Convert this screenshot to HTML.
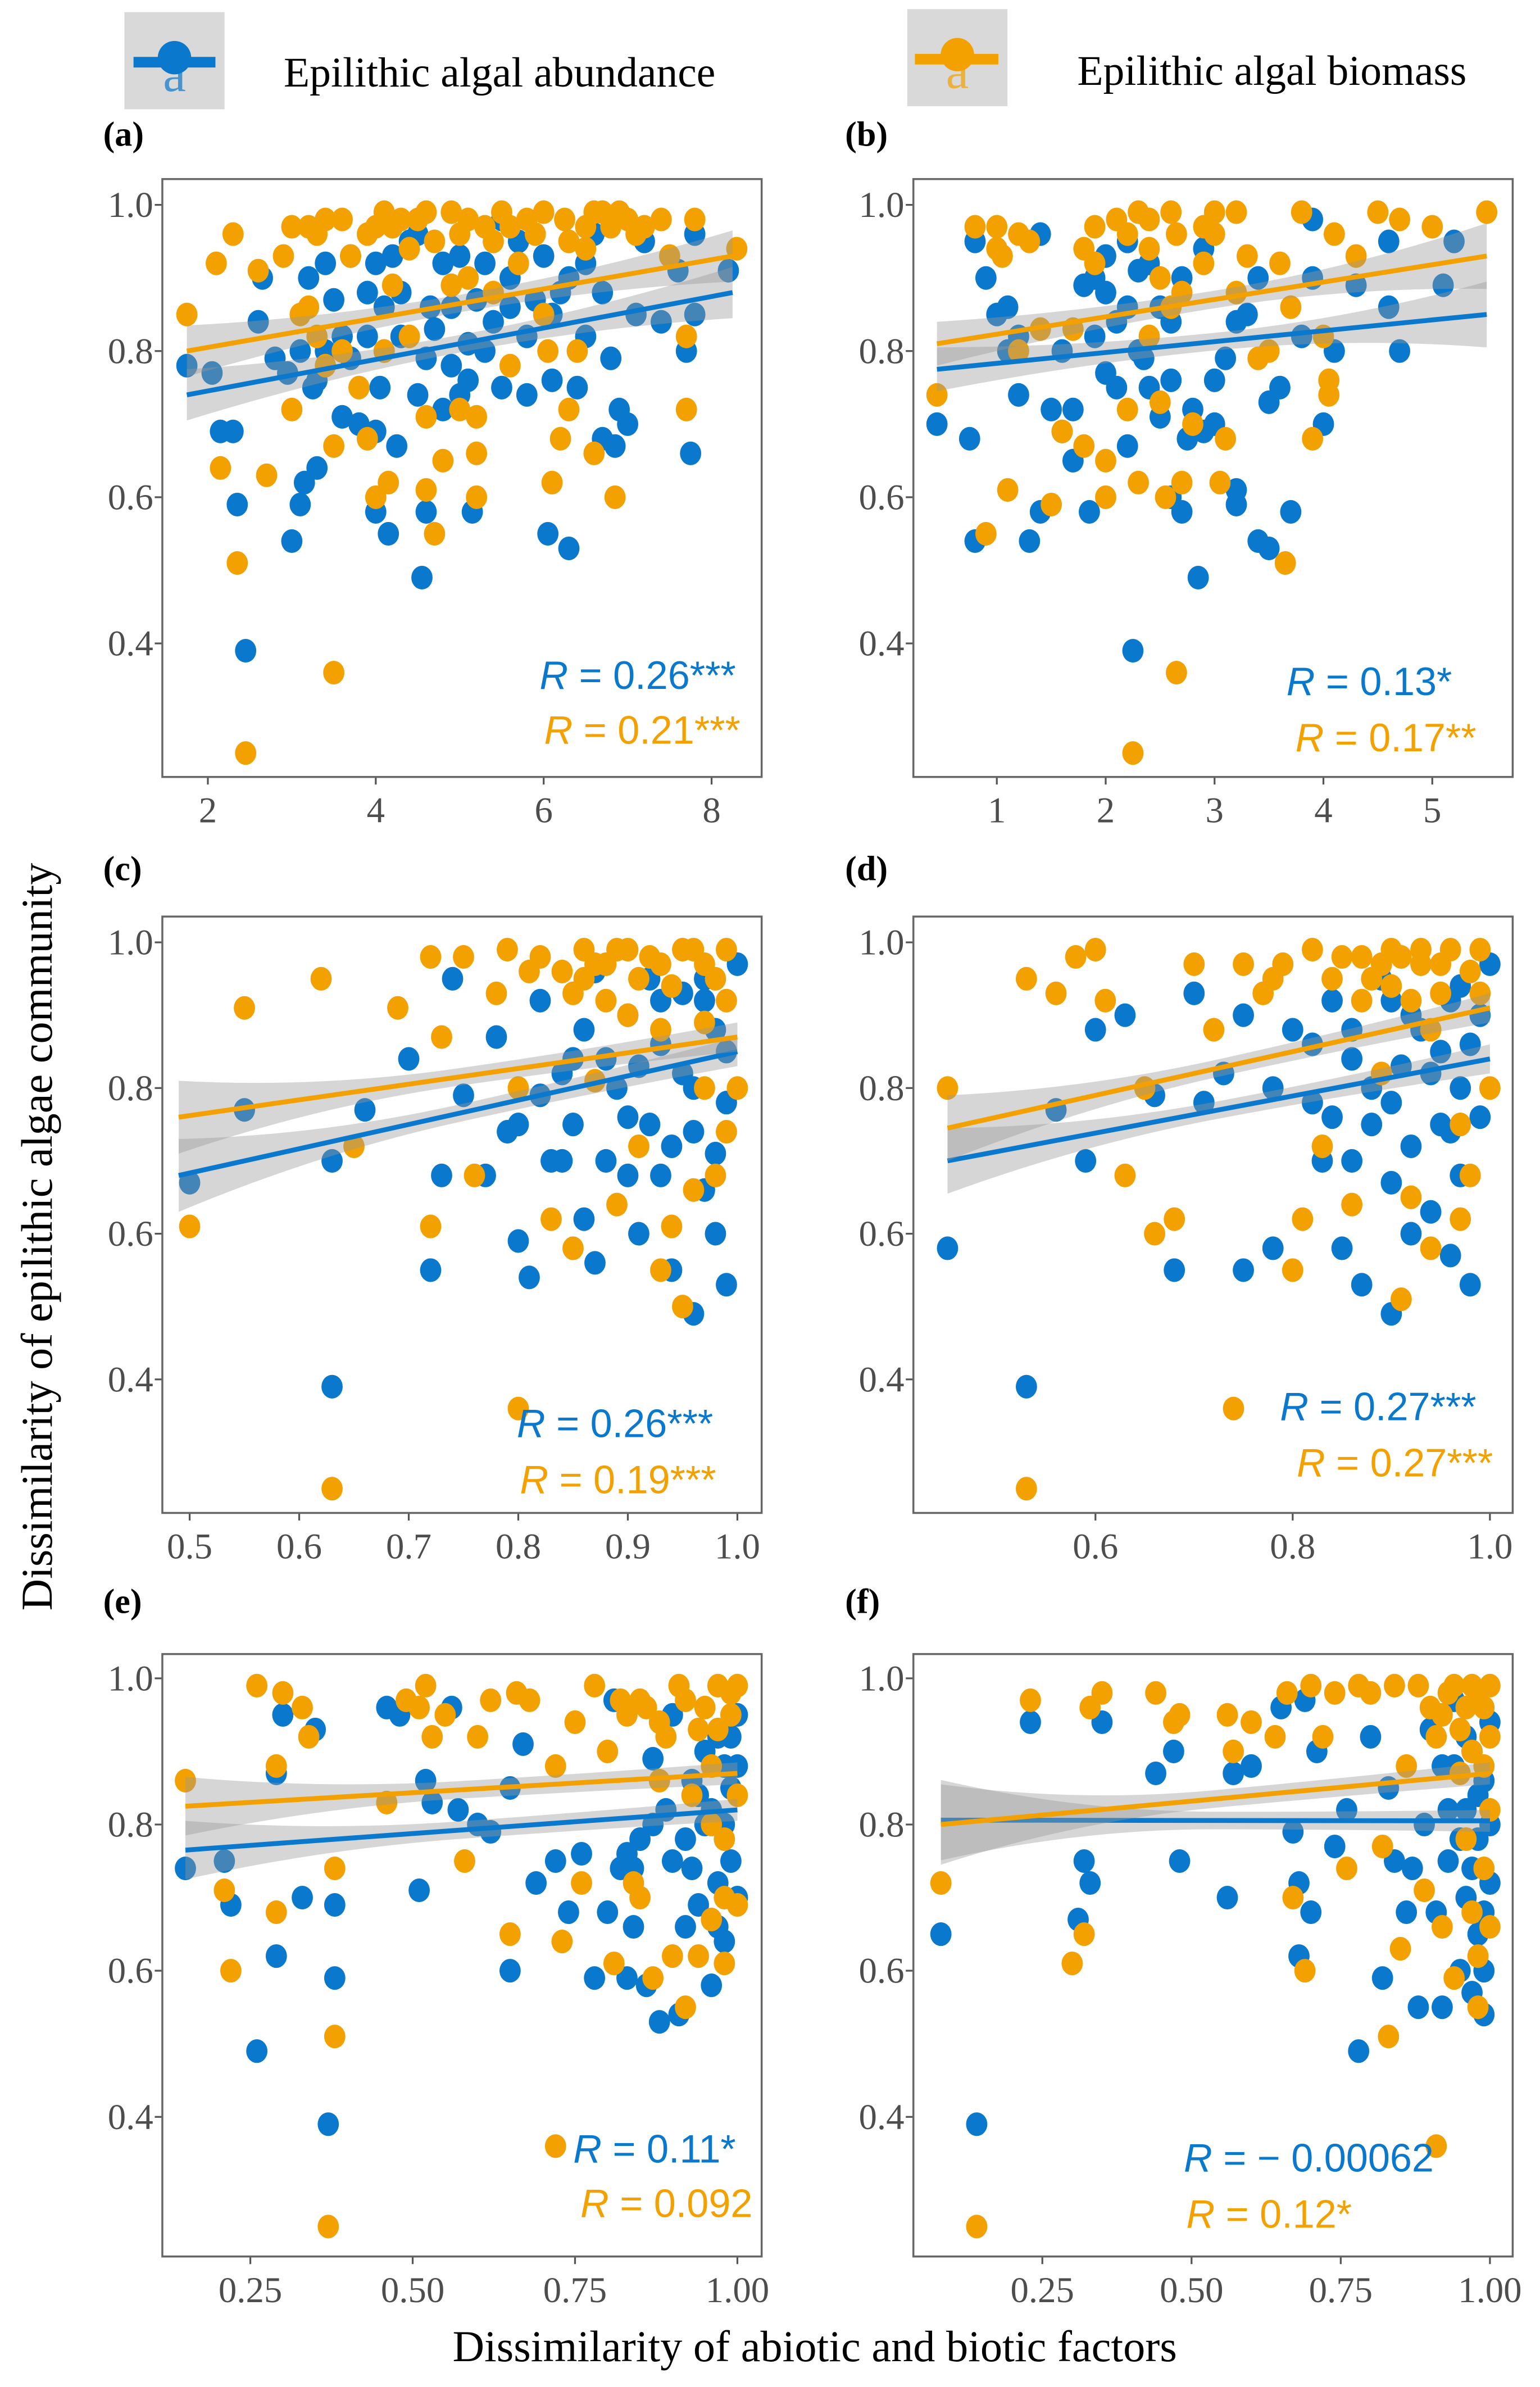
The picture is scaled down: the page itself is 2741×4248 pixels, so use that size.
<!DOCTYPE html>
<html><head><meta charset="utf-8"><style>
html,body{margin:0;padding:0;background:#fff}
svg{display:block}
.tick{font-family:"Liberation Serif",serif;font-size:24px;fill:#4d4d4d}
.plab{font-family:"Liberation Serif",serif;font-size:23px;font-weight:bold;fill:#000}
.rt{font-family:"Liberation Sans",sans-serif;font-size:26px}
.ttl{font-family:"Liberation Serif",serif;font-size:28px;fill:#000}
</style></head><body>
<svg id="fig" width="2741" height="4248" viewBox="0 0 1015 1573" preserveAspectRatio="none" xmlns="http://www.w3.org/2000/svg">
<g>
 <g>
  <rect x="82" y="8" width="66" height="64" fill="#d9d9d9"/>
  <line x1="88" y1="41" x2="142" y2="41" stroke="#0a78cc" stroke-width="7"/>
  <circle cx="115" cy="38" r="11" fill="#0a78cc"/>
  <text x="115" y="60" text-anchor="middle" style="font-family:'Liberation Serif',serif;font-size:34px;fill:#0a78cc;opacity:.7">a</text>
  <text x="187" y="57" class="ttl">Epilithic algal abundance</text>
 </g>
 <g>
  <rect x="598" y="6" width="66" height="64" fill="#d9d9d9"/>
  <line x1="603" y1="39" x2="658" y2="39" stroke="#f2a100" stroke-width="7"/>
  <circle cx="631" cy="36" r="11" fill="#f2a100"/>
  <text x="631" y="58" text-anchor="middle" style="font-family:'Liberation Serif',serif;font-size:34px;fill:#f2a100;opacity:.7">a</text>
  <text x="710" y="56" class="ttl">Epilithic algal biomass</text>
 </g>
</g>
<text class="ttl" transform="translate(34,815) rotate(-90)" text-anchor="middle" style="font-size:29px">Dissimilarity of epilithic algae community</text>
<text class="ttl" x="537" y="1556" text-anchor="middle" style="font-size:29px">Dissimilarity of  abiotic and biotic factors</text>
<g id="panels"></g>
</svg>
<script>
// ---- data ----
const yTicks = [0.4, 0.6, 0.8, 1.0];
const yTickLabels = ["0.4", "0.6", "0.8", "1.0"];
const panelNames = ["a","b","c","d","e","f"];
const xTicksA = [2,4,6,8]; const xTickLabelsA = ["2","4","6","8"];
const xTicksB = [1,2,3,4,5]; const xTickLabelsB = ["1","2","3","4","5"];
const xTicksC = [0.5,0.6,0.7,0.8,0.9,1.0]; const xTickLabelsC = ["0.5","0.6","0.7","0.8","0.9","1.0"];
const xTicksD = [0.6,0.8,1.0]; const xTickLabelsD = ["0.6","0.8","1.0"];
const xTicksE = [0.25,0.5,0.75,1.0]; const xTickLabelsE = ["0.25","0.50","0.75","1.00"];
const xTicksF = [0.25,0.5,0.75,1.0]; const xTickLabelsF = ["0.25","0.50","0.75","1.00"];

const blueA = [[1.75,0.78],[2.05,0.77],[2.15,0.69],[2.3,0.69],[2.35,0.59],[2.45,0.39],[2.6,0.84],[2.65,0.90],[2.8,0.79],[2.95,0.77],[3.0,0.54],[3.1,0.59],[3.15,0.62],[3.2,0.90],[3.25,0.75],[3.3,0.64],[3.4,0.92],[3.5,0.87],[3.6,0.71],[3.7,0.79],[3.8,0.70],[3.9,0.88],[4.0,0.58],[4.0,0.69],[4.05,0.75],[4.1,0.86],[4.15,0.55],[4.2,0.93],[4.25,0.67],[4.3,0.82],[4.4,0.95],[4.5,0.74],[4.55,0.49],[4.6,0.58],[4.65,0.86],[4.7,0.83],[4.8,0.92],[4.9,0.78],[5.0,0.74],[5.1,0.81],[5.15,0.58],[5.2,0.87],[5.3,0.92],[5.4,0.84],[5.5,0.75],[5.6,0.90],[5.7,0.95],[5.8,0.74],[5.9,0.87],[6.0,0.93],[6.05,0.55],[6.1,0.76],[6.2,0.88],[6.3,0.53],[6.4,0.75],[6.5,0.82],[6.6,0.96],[6.7,0.68],[6.8,0.79],[6.85,0.67],[6.9,0.72],[7.0,0.70],[7.2,0.95],[7.4,0.84],[7.6,0.91],[7.7,0.80],[7.75,0.66],[7.8,0.96],[8.2,0.91],[7.8,0.85],[5.5,0.98],[4.5,0.96],[3.7,0.93],[6.5,0.92],[3.1,0.80],[3.3,0.76],[3.6,0.82],[3.9,0.82],[4.1,0.80],[4.3,0.88],[4.6,0.79],[4.8,0.72],[4.9,0.86],[5.1,0.76],[5.3,0.80],[5.6,0.86],[5.8,0.82],[6.1,0.85],[6.3,0.90],[6.7,0.88],[7.1,0.85],[5.0,0.93],[4.0,0.92],[3.4,0.80]];
const orangeA = [[1.75,0.85],[2.1,0.92],[2.15,0.64],[2.3,0.96],[2.35,0.51],[2.45,0.25],[2.6,0.91],[2.7,0.63],[2.9,0.93],[3.0,0.97],[3.0,0.72],[3.1,0.85],[3.2,0.97],[3.3,0.82],[3.4,0.98],[3.5,0.67],[3.5,0.36],[3.6,0.80],[3.7,0.93],[3.8,0.75],[3.9,0.68],[4.0,0.97],[4.0,0.60],[4.1,0.99],[4.15,0.62],[4.2,0.89],[4.3,0.98],[4.4,0.82],[4.5,0.98],[4.6,0.61],[4.6,0.71],[4.7,0.55],[4.7,0.95],[4.8,0.65],[4.9,0.99],[5.0,0.72],[5.0,0.96],[5.1,0.90],[5.2,0.66],[5.2,0.60],[5.2,0.71],[5.3,0.97],[5.4,0.88],[5.5,0.99],[5.6,0.78],[5.7,0.92],[5.8,0.98],[5.9,0.96],[6.0,0.85],[6.05,0.80],[6.1,0.62],[6.2,0.68],[6.25,0.98],[6.3,0.72],[6.4,0.80],[6.5,0.94],[6.6,0.66],[6.7,0.99],[6.8,0.97],[6.85,0.60],[6.9,0.99],[7.0,0.98],[7.2,0.97],[7.4,0.98],[7.5,0.93],[7.7,0.72],[7.7,0.82],[7.8,0.98],[8.3,0.94],[6.3,0.95],[4.4,0.94],[3.3,0.96],[3.6,0.98],[3.9,0.96],[4.2,0.97],[4.6,0.99],[5.1,0.98],[5.4,0.95],[5.6,0.97],[6.0,0.99],[6.5,0.97],[6.6,0.99],[7.1,0.96],[3.2,0.86],[4.1,0.80],[4.9,0.89],[3.4,0.78]];
const blueB = [[0.45,0.70],[0.75,0.68],[0.8,0.54],[0.8,0.95],[0.9,0.90],[1.0,0.85],[1.1,0.86],[1.2,0.74],[1.3,0.54],[1.4,0.58],[1.5,0.72],[1.6,0.69],[1.7,0.65],[1.7,0.72],[1.8,0.89],[1.85,0.58],[1.9,0.82],[2.0,0.93],[2.0,0.77],[2.1,0.75],[2.2,0.67],[2.25,0.39],[2.3,0.91],[2.35,0.79],[2.4,0.75],[2.5,0.71],[2.6,0.60],[2.7,0.58],[2.75,0.68],[2.8,0.72],[2.85,0.49],[2.9,0.69],[3.0,0.70],[3.1,0.79],[3.2,0.59],[3.2,0.61],[3.3,0.85],[3.4,0.54],[3.5,0.53],[3.5,0.73],[3.6,0.75],[3.7,0.58],[3.8,0.82],[3.9,0.90],[4.0,0.70],[4.1,0.80],[4.3,0.89],[4.6,0.86],[4.7,0.80],[5.1,0.89],[5.2,0.95],[2.5,0.86],[2.9,0.94],[3.4,0.90],[4.6,0.95],[2.1,0.84],[1.4,0.96],[2.2,0.95],[3.9,0.98],[1.6,0.80],[2.0,0.88],[2.2,0.86],[2.4,0.92],[2.6,0.84],[2.7,0.90],[2.3,0.80],[1.9,0.90],[2.6,0.76],[3.0,0.76],[3.2,0.84],[1.2,0.82],[1.1,0.80]];
const orangeB = [[0.45,0.74],[0.8,0.97],[0.9,0.55],[1.0,0.97],[1.05,0.93],[1.1,0.61],[1.2,0.80],[1.3,0.95],[1.4,0.83],[1.5,0.59],[1.6,0.69],[1.7,0.83],[1.8,0.67],[1.9,0.97],[2.0,0.65],[2.0,0.60],[2.1,0.98],[2.2,0.72],[2.3,0.62],[2.25,0.25],[2.4,0.98],[2.5,0.73],[2.55,0.60],[2.65,0.36],[2.65,0.96],[2.7,0.62],[2.8,0.70],[2.9,0.97],[3.0,0.96],[3.05,0.62],[3.1,0.68],[3.2,0.88],[3.3,0.93],[3.4,0.79],[3.5,0.80],[3.6,0.92],[3.65,0.51],[3.7,0.86],[3.8,0.99],[3.9,0.68],[4.0,0.82],[4.05,0.74],[4.1,0.96],[4.3,0.93],[4.5,0.99],[4.7,0.98],[5.0,0.97],[5.5,0.99],[4.05,0.76],[3.2,0.99],[2.6,0.99],[1.8,0.94],[1.9,0.92],[2.2,0.96],[2.4,0.94],[2.5,0.90],[2.7,0.88],[2.9,0.92],[3.0,0.99],[2.3,0.99],[1.0,0.94],[1.2,0.96],[2.6,0.86],[2.4,0.82]];
const blueC = [[0.5,0.67],[0.55,0.77],[0.63,0.70],[0.63,0.39],[0.66,0.77],[0.7,0.84],[0.72,0.55],[0.73,0.68],[0.75,0.79],[0.77,0.68],[0.8,0.59],[0.8,0.75],[0.81,0.54],[0.83,0.70],[0.84,0.82],[0.85,0.75],[0.86,0.62],[0.86,0.88],[0.87,0.56],[0.88,0.70],[0.89,0.80],[0.9,0.68],[0.9,0.90],[0.91,0.60],[0.92,0.75],[0.93,0.68],[0.93,0.86],[0.94,0.55],[0.95,0.82],[0.96,0.49],[0.96,0.74],[0.97,0.92],[0.97,0.66],[0.98,0.60],[0.98,0.88],[0.99,0.53],[0.99,0.78],[1.0,0.97],[0.74,0.95],[0.78,0.87],[0.82,0.92],[0.87,0.96],[0.92,0.95],[0.95,0.93],[0.99,0.85],[0.88,0.84],[0.79,0.74],[0.82,0.79],[0.84,0.70],[0.9,0.76],[0.94,0.72],[0.96,0.80],[0.98,0.71],[0.91,0.83],[0.85,0.84],[0.97,0.95],[0.93,0.92]];
const orangeC = [[0.5,0.61],[0.55,0.91],[0.62,0.95],[0.63,0.25],[0.65,0.72],[0.69,0.91],[0.72,0.98],[0.72,0.61],[0.73,0.87],[0.75,0.98],[0.76,0.68],[0.78,0.93],[0.8,0.36],[0.8,0.80],[0.82,0.98],[0.83,0.62],[0.84,0.96],[0.85,0.58],[0.86,0.99],[0.87,0.81],[0.88,0.97],[0.89,0.64],[0.9,0.99],[0.91,0.72],[0.92,0.98],[0.93,0.55],[0.93,0.88],[0.94,0.61],[0.95,0.99],[0.95,0.50],[0.96,0.66],[0.97,0.97],[0.97,0.80],[0.98,0.68],[0.99,0.99],[0.99,0.74],[1.0,0.80],[0.79,0.99],[0.85,0.93],[0.91,0.95],[0.97,0.89],[0.98,0.95],[0.87,0.97],[0.89,0.99],[0.93,0.97],[0.96,0.99],[0.94,0.94],[0.9,0.90],[0.88,0.92],[0.86,0.95],[0.99,0.92],[0.81,0.96]];
const blueD = [[0.45,0.58],[0.53,0.39],[0.56,0.77],[0.59,0.70],[0.6,0.88],[0.63,0.90],[0.66,0.79],[0.68,0.55],[0.71,0.78],[0.73,0.82],[0.75,0.55],[0.78,0.58],[0.8,0.88],[0.82,0.78],[0.83,0.70],[0.84,0.92],[0.85,0.58],[0.86,0.84],[0.87,0.53],[0.88,0.75],[0.89,0.95],[0.9,0.67],[0.9,0.49],[0.91,0.83],[0.92,0.60],[0.93,0.88],[0.94,0.63],[0.95,0.75],[0.96,0.92],[0.96,0.57],[0.97,0.80],[0.97,0.68],[0.98,0.53],[0.99,0.90],[0.99,0.76],[1.0,0.97],[0.86,0.88],[0.92,0.90],[0.75,0.90],[0.7,0.93],[0.95,0.85],[0.88,0.80],[0.84,0.76],[0.86,0.70],[0.9,0.78],[0.92,0.72],[0.94,0.82],[0.96,0.74],[0.98,0.86],[0.97,0.94],[0.9,0.92],[0.82,0.86],[0.78,0.80]];
const orangeD = [[0.45,0.80],[0.53,0.25],[0.53,0.95],[0.56,0.93],[0.58,0.98],[0.6,0.99],[0.61,0.92],[0.63,0.68],[0.65,0.80],[0.66,0.60],[0.68,0.62],[0.7,0.97],[0.72,0.88],[0.74,0.36],[0.75,0.97],[0.77,0.93],[0.79,0.97],[0.8,0.55],[0.81,0.62],[0.82,0.99],[0.83,0.72],[0.85,0.98],[0.86,0.64],[0.87,0.92],[0.88,0.95],[0.89,0.82],[0.9,0.99],[0.91,0.51],[0.92,0.65],[0.93,0.97],[0.94,0.58],[0.95,0.93],[0.96,0.99],[0.97,0.75],[0.98,0.96],[0.98,0.68],[0.99,0.99],[1.0,0.80],[0.97,0.62],[0.94,0.88],[0.87,0.98],[0.89,0.97],[0.91,0.98],[0.93,0.99],[0.95,0.97],[0.92,0.92],[0.9,0.94],[0.84,0.95],[0.99,0.93],[0.78,0.95]];
const blueE = [[0.15,0.74],[0.21,0.75],[0.22,0.69],[0.26,0.49],[0.29,0.62],[0.29,0.87],[0.3,0.95],[0.33,0.70],[0.35,0.93],[0.37,0.39],[0.38,0.69],[0.38,0.59],[0.46,0.96],[0.48,0.95],[0.51,0.71],[0.52,0.86],[0.53,0.83],[0.56,0.96],[0.57,0.82],[0.6,0.80],[0.62,0.79],[0.65,0.85],[0.65,0.60],[0.67,0.91],[0.69,0.72],[0.72,0.75],[0.74,0.68],[0.76,0.76],[0.78,0.59],[0.8,0.68],[0.81,0.97],[0.82,0.74],[0.83,0.59],[0.84,0.66],[0.85,0.78],[0.86,0.58],[0.87,0.89],[0.88,0.53],[0.89,0.82],[0.9,0.75],[0.91,0.54],[0.92,0.66],[0.93,0.86],[0.94,0.69],[0.95,0.80],[0.96,0.58],[0.97,0.92],[0.97,0.72],[0.98,0.64],[0.99,0.85],[0.99,0.75],[1.0,0.95],[0.95,0.90],[0.98,0.88],[1.0,0.70],[0.9,0.95],[0.96,0.82],[0.83,0.76],[0.84,0.74],[0.92,0.78],[0.94,0.84],[0.98,0.80],[1.0,0.88],[0.99,0.92],[0.97,0.66],[0.93,0.74],[0.87,0.80]];
const orangeE = [[0.15,0.86],[0.21,0.71],[0.22,0.60],[0.26,0.99],[0.29,0.68],[0.29,0.88],[0.3,0.98],[0.33,0.96],[0.34,0.92],[0.38,0.74],[0.38,0.51],[0.37,0.25],[0.46,0.83],[0.49,0.97],[0.51,0.96],[0.52,0.99],[0.53,0.92],[0.55,0.95],[0.58,0.75],[0.6,0.92],[0.62,0.97],[0.65,0.65],[0.66,0.98],[0.68,0.97],[0.72,0.36],[0.72,0.88],[0.73,0.64],[0.75,0.94],[0.76,0.72],[0.78,0.99],[0.8,0.90],[0.81,0.61],[0.82,0.97],[0.84,0.72],[0.85,0.70],[0.86,0.96],[0.87,0.59],[0.88,0.86],[0.9,0.62],[0.91,0.99],[0.92,0.55],[0.93,0.84],[0.94,0.62],[0.95,0.96],[0.96,0.67],[0.97,0.99],[0.98,0.78],[0.98,0.61],[0.99,0.98],[1.0,0.69],[0.96,0.88],[1.0,0.84],[0.89,0.92],[0.97,0.93],[0.83,0.95],[0.85,0.97],[0.88,0.94],[0.92,0.97],[0.94,0.93],[0.99,0.95],[1.0,0.99],[0.96,0.80],[0.98,0.70]];
const blueF = [[0.08,0.65],[0.14,0.39],[0.23,0.94],[0.31,0.67],[0.32,0.75],[0.33,0.72],[0.35,0.94],[0.44,0.87],[0.47,0.90],[0.48,0.75],[0.56,0.70],[0.57,0.87],[0.6,0.88],[0.65,0.96],[0.67,0.79],[0.68,0.72],[0.68,0.62],[0.69,0.97],[0.7,0.68],[0.71,0.90],[0.74,0.77],[0.76,0.82],[0.78,0.49],[0.8,0.92],[0.82,0.59],[0.83,0.85],[0.84,0.75],[0.86,0.68],[0.88,0.55],[0.89,0.80],[0.9,0.93],[0.91,0.68],[0.92,0.55],[0.93,0.75],[0.94,0.88],[0.95,0.60],[0.96,0.70],[0.96,0.82],[0.97,0.57],[0.97,0.90],[0.98,0.65],[0.98,0.78],[0.99,0.54],[0.99,0.86],[1.0,0.72],[1.0,0.94],[0.94,0.97],[0.99,0.60],[0.92,0.88],[0.95,0.78],[0.97,0.74],[0.98,0.84],[1.0,0.80],[0.99,0.68],[0.96,0.92],[0.93,0.82],[0.87,0.74]];
const orangeF = [[0.08,0.72],[0.14,0.25],[0.23,0.97],[0.3,0.61],[0.32,0.65],[0.33,0.96],[0.35,0.98],[0.44,0.98],[0.47,0.94],[0.48,0.95],[0.56,0.95],[0.57,0.90],[0.6,0.94],[0.64,0.92],[0.66,0.98],[0.67,0.70],[0.69,0.60],[0.7,0.99],[0.72,0.92],[0.74,0.98],[0.76,0.74],[0.78,0.99],[0.8,0.98],[0.82,0.77],[0.83,0.51],[0.84,0.99],[0.85,0.63],[0.86,0.88],[0.88,0.99],[0.89,0.71],[0.9,0.96],[0.91,0.36],[0.92,0.66],[0.93,0.98],[0.94,0.59],[0.95,0.93],[0.96,0.78],[0.97,0.99],[0.97,0.68],[0.98,0.55],[0.99,0.96],[1.0,0.82],[1.0,0.66],[0.99,0.74],[0.95,0.87],[0.91,0.92],[0.92,0.95],[0.94,0.99],[0.96,0.96],[0.98,0.98],[1.0,0.92],[0.99,0.88],[0.97,0.90],[1.0,0.99],[0.98,0.62]];

// regression fits: [x0, y0, x1, y1]
const fitBlue = [[1.75,0.74,8.25,0.88],[0.45,0.775,5.5,0.85],[0.49,0.68,1.0,0.85],[0.45,0.70,1.0,0.84],[0.15,0.765,1.0,0.82],[0.08,0.806,1.0,0.805]];
const fitOrange = [[1.75,0.80,8.25,0.93],[0.45,0.81,5.5,0.93],[0.49,0.76,1.0,0.87],[0.45,0.745,1.0,0.91],[0.15,0.825,1.0,0.87],[0.08,0.80,1.0,0.87]];
// confidence half-widths: [middle, left end, right end]
const ciBlue = [[0.012,0.035,0.035],[0.012,0.03,0.045],[0.012,0.05,0.02],[0.012,0.045,0.02],[0.012,0.04,0.015],[0.012,0.055,0.015]];
const ciOrange = [[0.012,0.035,0.035],[0.012,0.03,0.045],[0.012,0.05,0.02],[0.012,0.045,0.02],[0.012,0.04,0.015],[0.012,0.055,0.015]];
const rBlue = ["0.26***","0.13*","0.26***","0.27***","0.11*","\u2212 0.00062"];
const rOrange = ["0.21***","0.17**","0.19***","0.27***","0.092","0.12*"];

// ---- layout (scales) ----
const panels = [
 {left:107,right:502,top:118,bottom:512, x0:2,px0:137,x1:8,px1:469, y10:135,y04:424, ticks:xTicksA, labs:xTickLabelsA, blue:blueA, orange:orangeA, lab:[68,96], rb:[485,454], ro:[488,490]},
 {left:602,right:997,top:118,bottom:512, x0:1,px0:657,x1:5,px1:944, y10:135,y04:424, ticks:xTicksB, labs:xTickLabelsB, blue:blueB, orange:orangeB, lab:[557,96], rb:[957,458], ro:[973,495]},
 {left:107,right:502,top:604,bottom:997, x0:0.5,px0:125,x1:1.0,px1:486, y10:621,y04:909, ticks:xTicksC, labs:xTickLabelsC, blue:blueC, orange:orangeC, lab:[68,580], rb:[470,947], ro:[472,984]},
 {left:602,right:997,top:604,bottom:997, x0:0.6,px0:722,x1:1.0,px1:982, y10:621,y04:909, ticks:xTicksD, labs:xTickLabelsD, blue:blueD, orange:orangeD, lab:[557,580], rb:[973,936], ro:[984,973]},
 {left:107,right:502,top:1090,bottom:1487, x0:0.25,px0:165,x1:1.0,px1:486, y10:1106,y04:1395, ticks:xTicksE, labs:xTickLabelsE, blue:blueE, orange:orangeE, lab:[68,1063], rb:[485,1425], ro:[496,1461]},
 {left:602,right:997,top:1090,bottom:1487, x0:0.25,px0:687,x1:1.0,px1:982, y10:1106,y04:1395, ticks:xTicksF, labs:xTickLabelsF, blue:blueF, orange:orangeF, lab:[557,1063], rb:[945,1431], ro:[891,1468]}
];
const NS = "http://www.w3.org/2000/svg";
const root = document.getElementById('panels');
const BLUE = "#0a78cc", ORANGE = "#f2a100";
function mk(tag, attrs, parent){const e=document.createElementNS(NS,tag);for(const k in attrs)e.setAttribute(k,attrs[k]);parent.appendChild(e);return e;}

panels.forEach((p, i) => {
  const sx = v => p.px0 + (v - p.x0) * (p.px1 - p.px0) / (p.x1 - p.x0);
  const sy = v => p.y10 + (1.0 - v) * (p.y04 - p.y10) / 0.6;
  const g = mk('g', {}, root);
  
  
  const lab = mk('text', {x:p.lab[0], y:p.lab[1], class:'plab'}, g);
  lab.textContent = '(' + panelNames[i] + ')';
  
  
  const bg = mk('rect', {x:p.left, y:p.top, width:p.right-p.left, height:p.bottom-p.top, fill:'#fff'}, g);
  
  
  yTicks.forEach((t, k) => {
    const y = sy(t);
    const tl = mk('line', {x1:p.left-5, x2:p.left, y1:y, y2:y, stroke:'#555', 'stroke-width':1.2}, g);
    
    
    const tx = mk('text', {x:p.left-6, y:y+8, class:'tick', 'text-anchor':'end'}, g);
    tx.textContent = yTickLabels[k];
    
    
  });
  p.ticks.forEach((t, k) => {
    const x = sx(t);
    const tl = mk('line', {x1:x, x2:x, y1:p.bottom, y2:p.bottom+5, stroke:'#555', 'stroke-width':1.2}, g);
    
    
    const tx = mk('text', {x:x, y:p.bottom+30, class:'tick', 'text-anchor':'middle'}, g);
    tx.textContent = p.labs[k];
    
    
  });
  const drawPts = (arr, col, nm) => {
    arr.forEach(d => {
      const c = mk('ellipse', {cx:sx(d[0]), cy:sy(d[1]), rx:7, ry:7.8, fill:col}, g);
      
      
    });
  };
  drawPts(p.blue, BLUE, 'point-abundance');
  drawPts(p.orange, ORANGE, 'point-biomass');
  const drawFit = (f, ci, col, nm) => {
    const n = 30, up = [], lo = [];
    const xm = (f[0]+f[2])/2, hr = (f[2]-f[0])/2;
    for (let k=0;k<=n;k++){
      const x = f[0] + (f[2]-f[0])*k/n;
      const y = f[1] + (f[3]-f[1])*k/n;
      const u = (x - xm)/hr;
      const end = u < 0 ? ci[1] : ci[2];
      const h = ci[0] + (end - ci[0]) * u * u;
      up.push(sx(x)+','+sy(y+h)); lo.unshift(sx(x)+','+sy(y-h));
    }
    const band = mk('polygon', {points:up.concat(lo).join(' '), fill:'#999', 'fill-opacity':0.4}, g);
    
    
    const ln = mk('line', {x1:sx(f[0]), y1:sy(f[1]), x2:sx(f[2]), y2:sy(f[3]), stroke:col, 'stroke-width':3.2}, g);
    
    
  };
  drawFit(fitBlue[i], ciBlue[i], BLUE, 'abundance');
  drawFit(fitOrange[i], ciOrange[i], ORANGE, 'biomass');
  const frame = mk('rect', {x:p.left, y:p.top, width:p.right-p.left, height:p.bottom-p.top, fill:'none', stroke:'#666', 'stroke-width':1.3}, g);
  
  
  const addR = (pos, val, col, nm) => {
    const t = mk('text', {x:pos[0], y:pos[1], class:'rt', fill:col, 'text-anchor':'end'}, g);
    const r = mk('tspan', {'font-style':'italic'}, t); r.textContent = 'R';
    const v = mk('tspan', {}, t); v.textContent = ' = ' + val;
    
    
  };
  addR(p.rb, rBlue[i], BLUE, 'r-value-abundance');
  addR(p.ro, rOrange[i], ORANGE, 'r-value-biomass');
});
</script>
</body></html>
